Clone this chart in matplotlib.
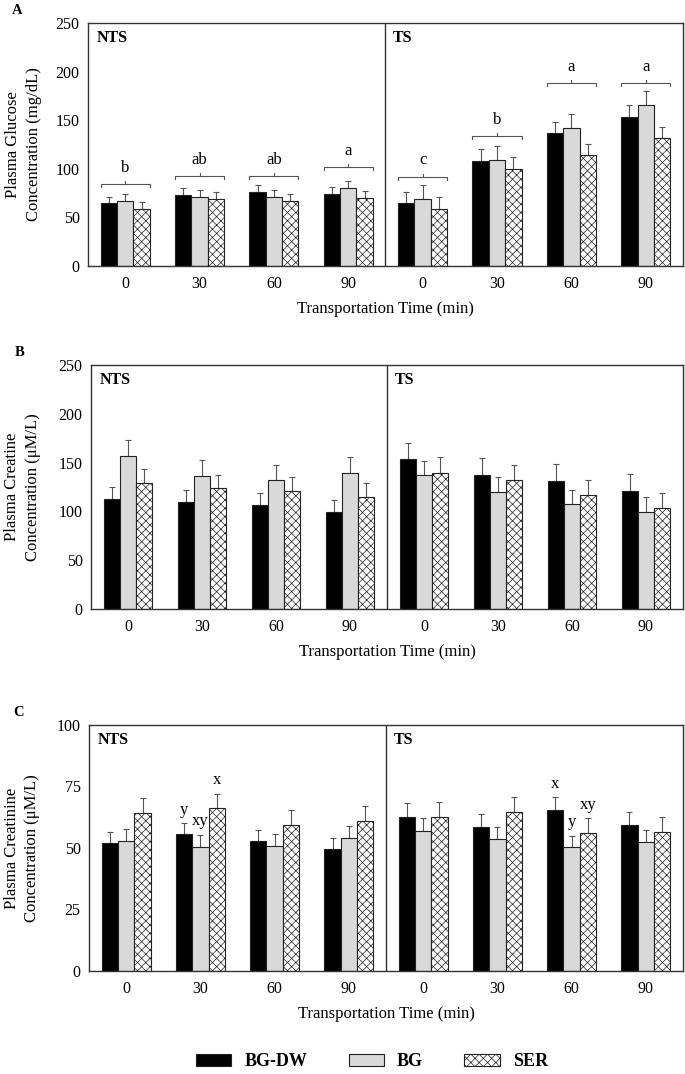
import numpy as np
import matplotlib
matplotlib.use('Agg')
import matplotlib.pyplot as plt
from matplotlib.patches import Patch

plt.rcParams['font.family'] = ['Liberation Serif', 'DejaVu Serif']
plt.rcParams['font.size'] = 11
plt.rcParams['hatch.linewidth'] = 0.5

times = ['0', '30', '60', '90']
groups = ['NTS', 'TS']
series = ['BG-DW', 'BG', 'SER']

# 8 positions: NTS 0,30,60,90 then TS 0,30,60,90
glucose_bgdw = [64.4, 72.9, 75.7, 73.6, 64.4, 108.3, 136.5, 153.7]
glucose_bg = [66.7, 70.9, 70.9, 80.1, 68.5, 109.3, 142.3, 165.7]
glucose_ser = [58.2, 68.8, 66.7, 69.8, 58.8, 100.0, 113.9, 131.7]
glucose_bgdw_err = [6.8, 7.5, 7.2, 7.2, 11.6, 11.7, 11.7, 11.7]
glucose_bg_err = [7.2, 6.8, 6.8, 7.3, 14.4, 14.5, 13.8, 14.2]
glucose_ser_err = [7.2, 6.9, 6.9, 6.9, 11.7, 12.1, 11.3, 11.0]
glucose_letters = ['b', 'ab', 'ab', 'a', 'c', 'b', 'a', 'a']
glucose_bracket = [84.0, 92.5, 92.5, 101.5, 92.0, 133.5, 188.0, 188.0]

creatine_bgdw = [112.6, 109.5, 106.1, 98.9, 153.5, 137.1, 131.6, 121.4]
creatine_bg = [156.5, 136.4, 132.0, 139.8, 137.1, 119.7, 107.1, 99.6]
creatine_ser = [128.9, 123.5, 121.4, 114.3, 139.8, 132.3, 116.6, 103.0]
creatine_bgdw_err = [12.2, 12.3, 12.9, 12.3, 16.7, 17.4, 17.4, 16.7]
creatine_bg_err = [16.4, 16.1, 16.0, 16.4, 15.0, 15.4, 14.7, 15.0]
creatine_ser_err = [14.3, 14.3, 14.3, 14.3, 15.7, 15.7, 15.4, 16.0]

creatinine_bgdw = [51.9, 55.8, 52.8, 49.7, 62.7, 58.5, 65.3, 59.2]
creatinine_bg = [53.0, 50.3, 50.7, 53.9, 57.0, 53.5, 50.3, 52.3]
creatinine_ser = [64.1, 66.1, 59.3, 60.8, 62.5, 64.8, 56.1, 56.6]
creatinine_bgdw_err = [4.5, 4.2, 4.4, 4.5, 5.5, 5.4, 5.3, 5.4]
creatinine_bg_err = [4.9, 5.0, 4.9, 4.9, 5.1, 4.9, 4.7, 4.9]
creatinine_ser_err = [6.1, 6.0, 6.0, 6.1, 6.1, 5.9, 6.0, 5.9]
# (position, series index, letter)
creatinine_letters = [(1, 0, 'y'), (1, 1, 'xy'), (1, 2, 'x'),
                      (6, 0, 'x'), (6, 1, 'y'), (6, 2, 'xy')]

colors = ['black', '#d9d9d9', 'white']
hatches = [None, None, 'xxxx']
w = 0.22
offs = [-w, 0, w]
x = np.arange(8) + 0.5


def draw_panel(ax, vals, errs, ymax, ystep, ylabel, letter, lab_x):
    for k in range(3):
        ax.bar(x + offs[k], vals[k], w, color=colors[k], edgecolor='#222',
               linewidth=0.8, hatch=hatches[k], zorder=2)
        ax.errorbar(x + offs[k], vals[k], yerr=[np.zeros(8), errs[k]], fmt='none',
                    ecolor='#555', elinewidth=0.8, capsize=2.5, capthick=0.8, zorder=1)
    ax.set_xlim(0, 8)
    ax.set_ylim(0, ymax)
    ax.set_yticks(np.arange(0, ymax + 1, ystep))
    ax.set_xticks(x)
    ax.set_xticklabels(times * 2)
    ax.tick_params(length=0, labelsize=11.5)
    ax.tick_params(axis='x', pad=7)
    ax.tick_params(axis='y', pad=6)
    for s in ax.spines.values():
        s.set_color('#333')
        s.set_linewidth(1)
    ax.axvline(4, color='#333', lw=1)
    ax.text(0.014, 0.94, 'NTS', transform=ax.transAxes, fontweight='bold', fontsize=11.5, va='center')
    ax.text(0.513, 0.94, 'TS', transform=ax.transAxes, fontweight='bold', fontsize=11.5, va='center')
    ax.set_xlabel('Transportation Time (min)', fontsize=12, labelpad=7)
    ax.set_ylabel(ylabel, fontsize=12, linespacing=1.4)
    ax.yaxis.set_label_coords(lab_x, 0.5)
    ax.text(-0.128, 1.05, letter, transform=ax.transAxes, fontweight='bold', fontsize=10.5, va='center')


fig = plt.figure(figsize=(6.85, 10.74), dpi=100)
axA = fig.add_axes([0.1285, 0.7523, 0.8685, 0.2263])
axB = fig.add_axes([0.1328, 0.4330, 0.8642, 0.2271])
axC = fig.add_axes([0.1300, 0.0959, 0.8670, 0.2291])

draw_panel(axA, [glucose_bgdw, glucose_bg, glucose_ser],
           [glucose_bgdw_err, glucose_bg_err, glucose_ser_err],
           250, 50, 'Plasma Glucose\nConcentration (mg/dL)', 'A', -0.078)
draw_panel(axB, [creatine_bgdw, creatine_bg, creatine_ser],
           [creatine_bgdw_err, creatine_bg_err, creatine_ser_err],
           250, 50, 'Plasma Creatine\nConcentration (\u03bcM/L)', 'B', -0.084)
draw_panel(axC, [creatinine_bgdw, creatinine_bg, creatinine_ser],
           [creatinine_bgdw_err, creatinine_bg_err, creatinine_ser_err],
           100, 25, 'Plasma Creatinine\nConcentration (\u03bcM/L)', 'C', -0.082)

# glucose brackets
for i in range(8):
    x0, x1, y = x[i] - 0.33, x[i] + 0.33, glucose_bracket[i]
    axA.plot([x0, x0, x1, x1], [y - 3, y, y, y - 3], color='#555', lw=0.8)
    axA.plot([x[i], x[i]], [y, y + 3], color='#555', lw=0.8)
    axA.text(x[i], y + 17, glucose_letters[i], ha='center', va='center', fontsize=12)

# creatinine letters
c_vals = [creatinine_bgdw, creatinine_bg, creatinine_ser]
c_errs = [creatinine_bgdw_err, creatinine_bg_err, creatinine_ser_err]
for i, k, lt in creatinine_letters:
    top = c_vals[k][i] + c_errs[k][i]
    axC.text(x[i] + offs[k], top + 5.5, lt, ha='center', va='center', fontsize=12)

handles = [Patch(facecolor=colors[k], edgecolor='#222', hatch=hatches[k], linewidth=0.8) for k in range(3)]
fig.legend(handles, series, ncol=3, loc='center', bbox_to_anchor=(0.543, 0.0112),
           frameon=False, prop={'weight': 'bold', 'size': 13}, handlelength=1.95,
           handleheight=0.62, columnspacing=2.3, handletextpad=0.72)

fig.savefig('out.png', dpi=100)
